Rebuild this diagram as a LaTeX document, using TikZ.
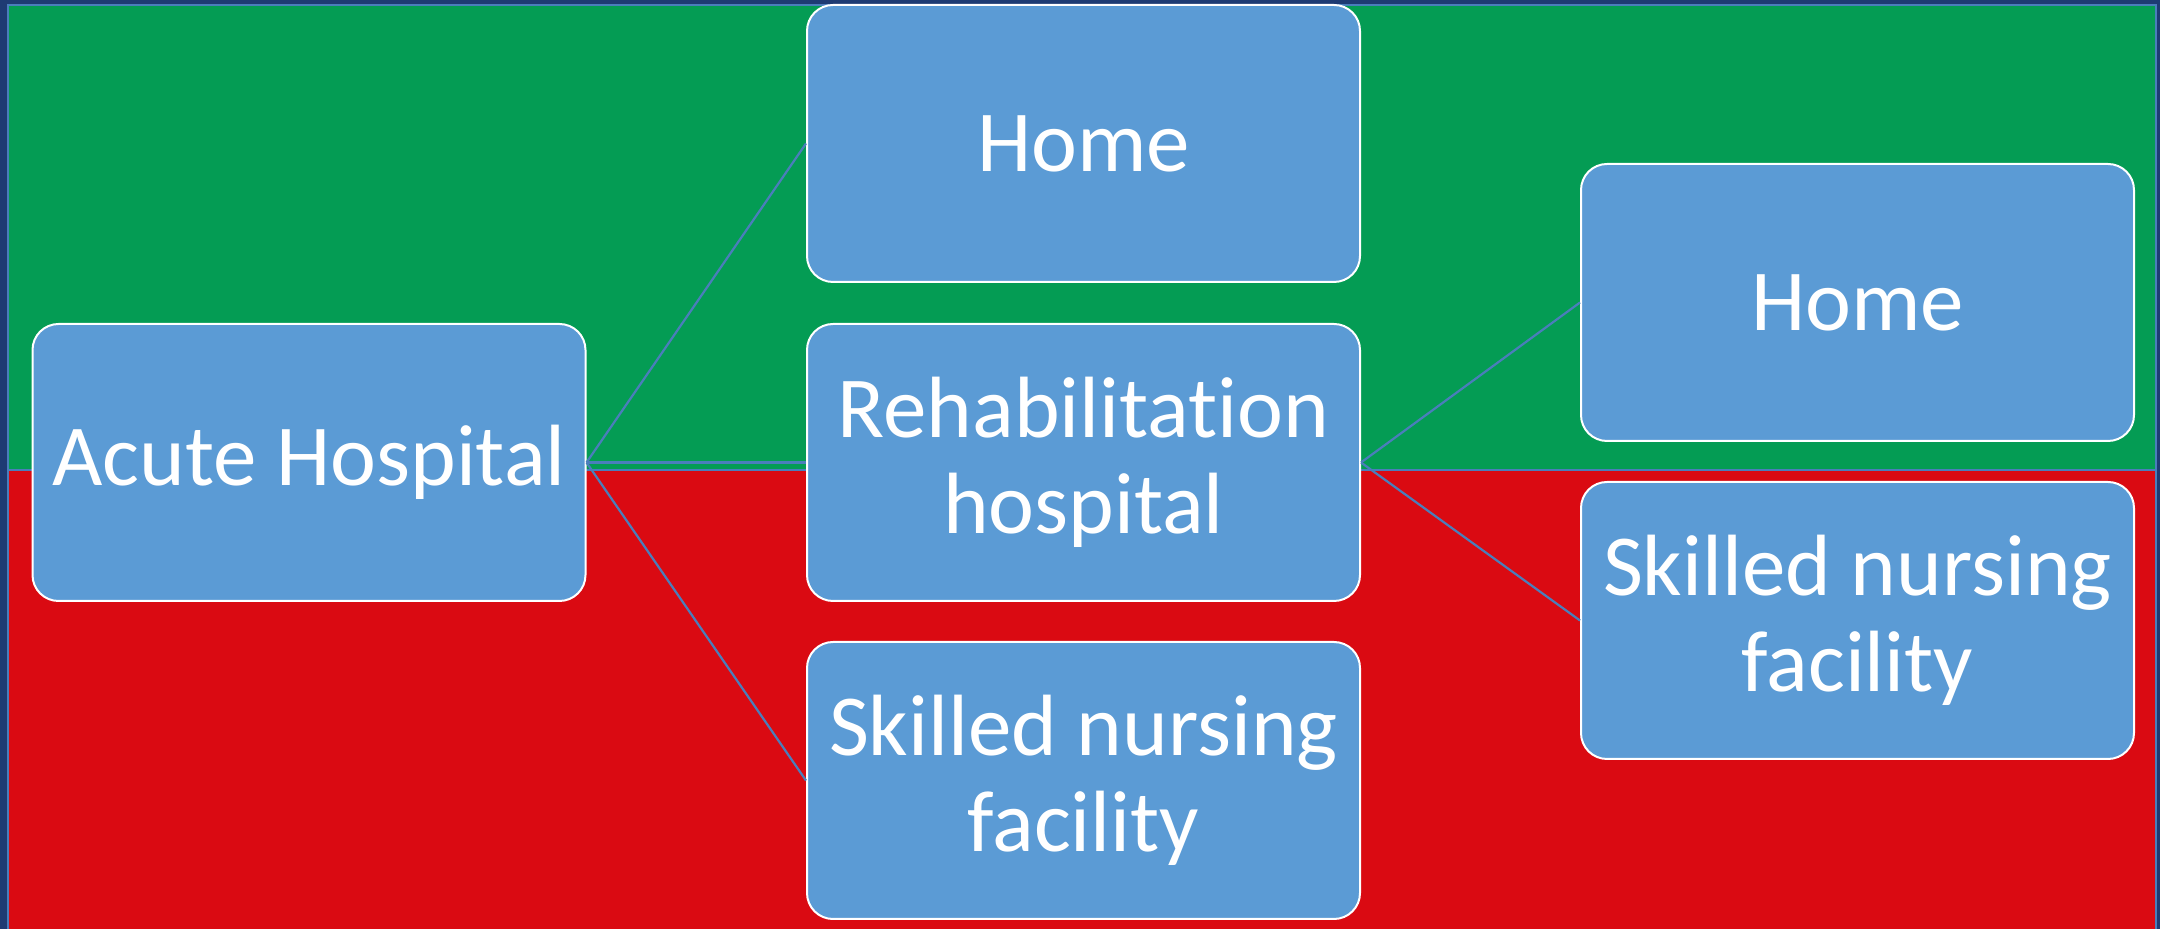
\documentclass[tikz,border=0pt]{standalone}
\usepackage{fontspec}
\setmainfont{Carlito}[Ligatures=NoCommon]
\definecolor{navy}{HTML}{1E3B73}
\definecolor{bggreen}{HTML}{049C54}
\definecolor{bgred}{HTML}{DA0A12}
\definecolor{boxblue}{HTML}{5B9BD5}
\definecolor{linkblue}{HTML}{4A7EBB}
\begin{document}
\begin{tikzpicture}[x=0.5pt,y=-0.5pt,
  stagebox/.style={draw=white, line width=1pt, fill=boxblue, rounded corners=13pt,
    minimum width=276.5pt, minimum height=138.5pt, inner sep=2pt,
    text=white, align=center, font=\fontsize{43.5}{48}\selectfont},
  link/.style={draw=linkblue, line width=1.1pt}]
\useasboundingbox (0,0) rectangle (2160,929);
\fill[navy] (0,0) rectangle (2160,929);
\filldraw[fill=bggreen, draw=linkblue, line width=0.7pt] (8,5) rectangle (2156,470);
\filldraw[fill=bgred, draw=linkblue, line width=0.7pt] (8,470) rectangle (2156,935);
\node[stagebox] (acute) at (309,462.5) {Acute Hospital};
\node[stagebox] (home1) at (1083.5,143.5) {Home};
\node[stagebox] (rehab) at (1083.5,462.5) {Rehabilitation\\hospital};
\node[stagebox] (snf1) at (1083.5,780.5) {Skilled nursing\\facility};
\node[stagebox] (home2) at (1857.5,302.5) {Home};
\node[stagebox] (snf2) at (1857.5,620.5) {Skilled nursing\\facility};
\draw[link] (acute.east) -- (home1.west);
\draw[link] (acute.east) -- (rehab.west);
\draw[link] (acute.east) -- (snf1.west);
\draw[link] (rehab.east) -- (home2.west);
\draw[link] (rehab.east) -- (snf2.west);
\end{tikzpicture}
\end{document}
